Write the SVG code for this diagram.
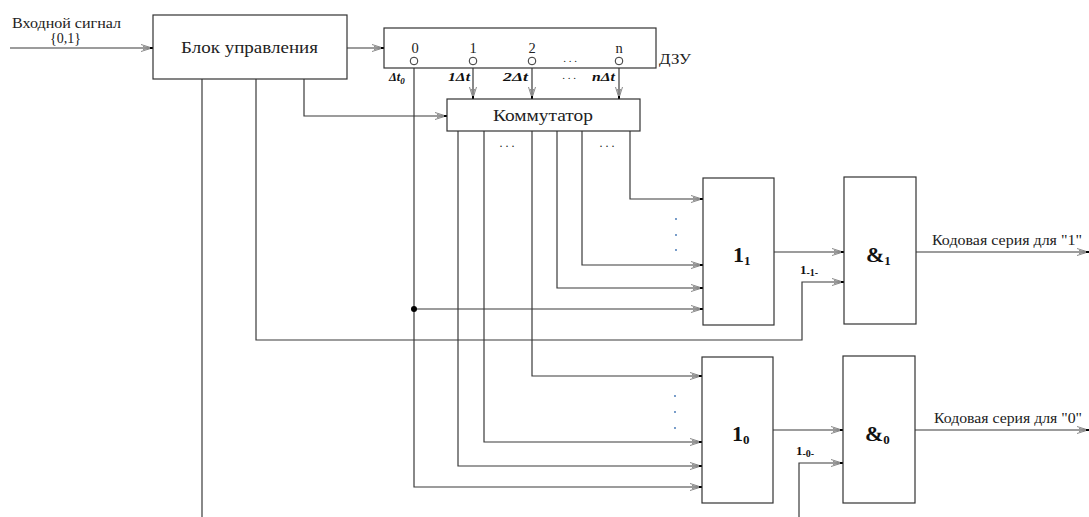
<svg xmlns="http://www.w3.org/2000/svg" width="1089" height="517" viewBox="0 0 1089 517">
<style>
.box{fill:#fff;stroke:#333;stroke-width:1.2}
.ln{fill:none;stroke:#3a3a3a;stroke-width:1.2}
.arr{marker-end:url(#ah)}
.t{font-family:"Liberation Serif","Times New Roman",serif;fill:#222}
.b{font-family:"Liberation Serif","Times New Roman",serif;font-weight:bold;fill:#111}
.dot{fill:#3a6fb0}
</style>
<defs>
<marker id="ah" markerWidth="14" markerHeight="10" refX="13" refY="5" orient="auto" markerUnits="userSpaceOnUse">
<path d="M1,1.5 L12,5 L1,8.5 M3,3.5 L12,5 L3,6.5" fill="none" stroke="#888" stroke-width="1"/>
<path d="M10,5 L13,5" stroke="#000" stroke-width="2"/>
</marker>
</defs>
<rect width="1089" height="517" fill="#fff"/>

<g id="connectors">
<path class="ln arr" d="M10,48 H153"/>
<path class="ln arr" d="M347,48 H384"/>
<path class="ln arr" d="M304,79 V116 H447"/>
<path class="ln arr" d="M256,79 V340 H802 V282 H844"/>
<path class="ln" d="M202,79 V517"/>
<path class="ln arr" d="M414,65 V487 H702"/>
<path class="ln arr" d="M473,65 V99"/>
<path class="ln arr" d="M532,65 V99"/>
<path class="ln arr" d="M619,65 V99"/>
<path class="ln arr" d="M414,309 H703"/>
<circle cx="414" cy="309" r="3" fill="#000"/>
<path class="ln arr" d="M630,131 V199 H703"/>
<path class="ln arr" d="M582,131 V265 H703"/>
<path class="ln arr" d="M557,131 V288 H703"/>
<path class="ln arr" d="M532,131 V376 H702"/>
<path class="ln arr" d="M484,131 V442 H702"/>
<path class="ln arr" d="M458,131 V466 H702"/>
<path class="ln arr" d="M774,252 H844"/>
<path class="ln arr" d="M773,430 H843"/>
<path class="ln arr" d="M799,517 V463 H843"/>
<path class="ln arr" d="M916,252 H1089"/>
<path class="ln arr" d="M915,430 H1089"/>
</g>

<g id="input-label">
<text class="t" x="12" y="28" font-size="14" textLength="109" lengthAdjust="spacingAndGlyphs">Входной сигнал</text>
<text class="t" x="50" y="43" font-size="14" textLength="31" lengthAdjust="spacingAndGlyphs">{0,1}</text>
</g>

<g id="block-control">
<rect class="box" x="153" y="15" width="194" height="64"/>
<text class="t" x="181" y="53" font-size="16.5" textLength="137" lengthAdjust="spacingAndGlyphs">Блок управления</text>
</g>

<g id="dzu">
<rect class="box" x="384" y="28" width="272" height="40"/>
<text class="t" x="415" y="53" font-size="14.5" text-anchor="middle">0</text>
<text class="t" x="473" y="53" font-size="14.5" text-anchor="middle">1</text>
<text class="t" x="532" y="53" font-size="14.5" text-anchor="middle">2</text>
<text class="t" x="619" y="53" font-size="14.5" text-anchor="middle">n</text>
<circle cx="414" cy="61" r="3.8" fill="#fff" stroke="#333" stroke-width="1"/>
<circle cx="473" cy="61" r="3.8" fill="#fff" stroke="#333" stroke-width="1"/>
<circle cx="532" cy="61" r="3.8" fill="#fff" stroke="#333" stroke-width="1"/>
<circle cx="619" cy="61" r="3.8" fill="#fff" stroke="#333" stroke-width="1"/>
<text class="t" x="570" y="62" font-size="11" text-anchor="middle" fill="#777">. . .</text>
<text class="t" x="659" y="64" font-size="14.5" textLength="32" lengthAdjust="spacingAndGlyphs">ДЗУ</text>
<text class="b" x="389" y="81" font-size="12.5" font-style="italic">Δt<tspan font-size="9" dy="3">0</tspan></text>
<text class="b" x="448" y="81" font-size="12.5" font-style="italic" textLength="22" lengthAdjust="spacingAndGlyphs">1Δt</text>
<text class="b" x="503" y="81" font-size="12.5" font-style="italic" textLength="25" lengthAdjust="spacingAndGlyphs">2Δt</text>
<text class="t" x="569" y="79" font-size="11" text-anchor="middle" fill="#777">. . .</text>
<text class="b" x="592" y="81" font-size="12.5" font-style="italic" textLength="23" lengthAdjust="spacingAndGlyphs">nΔt</text>
</g>

<g id="kommutator">
<rect class="box" x="447" y="99" width="193" height="32"/>
<text class="t" x="493" y="121" font-size="16" textLength="100" lengthAdjust="spacingAndGlyphs">Коммутатор</text>
<text class="t" x="507" y="147" font-size="12" text-anchor="middle" fill="#3a6fb0">. . .</text>
<text class="t" x="607" y="147" font-size="12" text-anchor="middle" fill="#3a6fb0">. . .</text>
</g>

<g id="dots">
<circle class="dot" cx="676" cy="219" r="0.9"/>
<circle class="dot" cx="676" cy="235" r="0.9"/>
<circle class="dot" cx="676" cy="250" r="0.9"/>
<circle class="dot" cx="675" cy="396" r="0.9"/>
<circle class="dot" cx="675" cy="412" r="0.9"/>
<circle class="dot" cx="675" cy="428" r="0.9"/>
</g>

<g id="l1">
<rect class="box" x="703" y="178" width="71" height="147"/>
<text class="b" x="733" y="262" font-size="22">1<tspan font-size="13" dy="3">1</tspan></text>
</g>

<g id="and1">
<rect class="box" x="844" y="177" width="72" height="147"/>
<text class="b" x="866" y="262" font-size="22">&amp;<tspan font-size="13" dy="3">1</tspan></text>
<text class="b" x="800" y="274" font-size="13">1<tspan font-size="10" dy="2">-1-</tspan></text>
<text class="t" x="932" y="245" font-size="14.5" textLength="150" lengthAdjust="spacingAndGlyphs">Кодовая серия для "1"</text>
</g>

<g id="l0">
<rect class="box" x="702" y="357" width="71" height="146"/>
<text class="b" x="732" y="441" font-size="22">1<tspan font-size="13" dy="3">0</tspan></text>
</g>

<g id="and0">
<rect class="box" x="843" y="356" width="72" height="147"/>
<text class="b" x="865" y="441" font-size="22">&amp;<tspan font-size="13" dy="3">0</tspan></text>
<text class="b" x="796" y="455" font-size="13">1<tspan font-size="10" dy="2">-0-</tspan></text>
<text class="t" x="934" y="423" font-size="14.5" textLength="148" lengthAdjust="spacingAndGlyphs">Кодовая серия для "0"</text>
</g>
</svg>
